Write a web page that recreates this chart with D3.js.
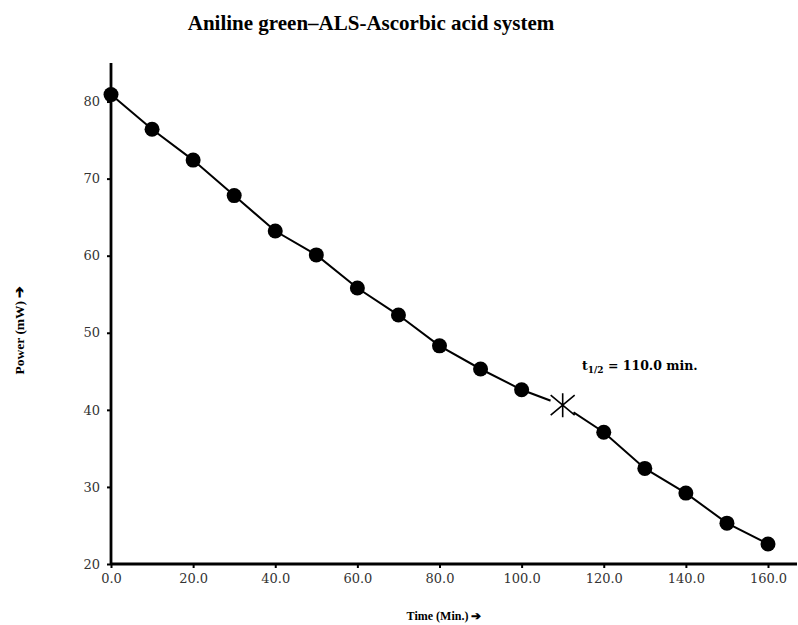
<!DOCTYPE html>
<html><head><meta charset="utf-8">
<script src="https://cdn.jsdelivr.net/npm/d3@7"></script>
<style>body{margin:0;background:#fff}svg{display:block}</style>
</head><body>
<svg id="c" width="798" height="625"></svg>
<script>
const times = [0,10,20,30,40,50,60,70,80,90,100,120,130,140,150,160];
const power = [80.9,76.4,72.4,67.8,63.2,60.1,55.8,52.3,48.3,45.3,42.6,37.1,32.4,29.2,25.3,22.6];
const halfTime = 110.0;
const halfPower = 40.6;
const xTicks = [0,20,40,60,80,100,120,140,160];
const yTicks = [20,30,40,50,60,70,80];
const titleText = "Aniline green–ALS-Ascorbic acid system";
const xLabel = "Time (Min.) ➔";
const yLabel = "Power (mW) ➔";

const svg = d3.select("#c");
const x = d3.scaleLinear().domain([0,160]).range([111,768]);
const y = d3.scaleLinear().domain([20,85]).range([564,63]);

svg.append("text").attr("x",371).attr("y",30).attr("text-anchor","middle")
  .attr("font-family","Liberation Serif").attr("font-weight","bold").attr("font-size",21)
  .text(titleText);

// axes
const xa = svg.append("g").attr("transform","translate(0,564)")
  .call(d3.axisBottom(x).tickValues(xTicks).tickFormat(d3.format(".1f")).tickSize(4).tickPadding(6));
xa.select(".domain").attr("d","M111,0H797").attr("stroke-width",2.8).attr("stroke","#000");
const ya = svg.append("g").attr("transform","translate(111,0)")
  .call(d3.axisLeft(y).tickValues(yTicks).tickSize(4).tickPadding(7));
ya.select(".domain").attr("d","M0,564V63").attr("stroke-width",2.8).attr("stroke","#000");
[xa,ya].forEach(a=>{
  a.selectAll(".tick line").attr("stroke","#000").attr("stroke-width",2);
  a.selectAll(".tick text").attr("font-family","DejaVu Serif").attr("font-size",13).attr("fill","#333");
});

// line
const pts = times.map((t,i)=>[t,power[i]]);
const all = pts.slice(0,11).concat([[halfTime,halfPower]]).concat(pts.slice(11));
svg.append("path").datum(all)
  .attr("d",d3.line().x(d=>x(d[0])).y(d=>y(d[1])))
  .attr("fill","none").attr("stroke","#000").attr("stroke-width",2);
// gap around half-life marker
svg.append("circle").attr("cx",x(halfTime)).attr("cy",y(halfPower)).attr("r",13).attr("fill","#fff");
const sx = x(halfTime), sy = y(halfPower);
const p = d3.path();
p.moveTo(sx,sy-12); p.lineTo(sx,sy+12);
p.moveTo(sx-12,sy-10); p.lineTo(sx+12,sy+10);
p.moveTo(sx-12,sy+10); p.lineTo(sx+12,sy-10);
svg.append("path").attr("d",p.toString()).attr("stroke","#000").attr("stroke-width",1.6).attr("fill","none");

svg.append("g").selectAll("circle").data(pts).join("circle")
  .attr("cx",d=>x(d[0])).attr("cy",d=>y(d[1])).attr("r",7.5).attr("fill","#000");

// annotation
const ann = svg.append("text").attr("x",582).attr("y",370)
  .attr("font-family","DejaVu Serif").attr("font-weight","bold").attr("font-size",12.5).attr("fill","#000");
ann.append("tspan").text("t");
ann.append("tspan").attr("font-size",9).attr("dy",3).text("1/2");
ann.append("tspan").attr("dy",-3).text(" = 110.0 min.");

svg.append("text").attr("x",444).attr("y",620).attr("text-anchor","middle")
  .attr("font-family","Liberation Serif").attr("font-weight","bold").attr("font-size",12)
  .text(xLabel);
svg.append("text").attr("transform","translate(24,330) rotate(-90)").attr("text-anchor","middle")
  .attr("font-family","Liberation Serif").attr("font-weight","bold").attr("font-size",13.5)
  .text(yLabel);
</script>
</body></html>
